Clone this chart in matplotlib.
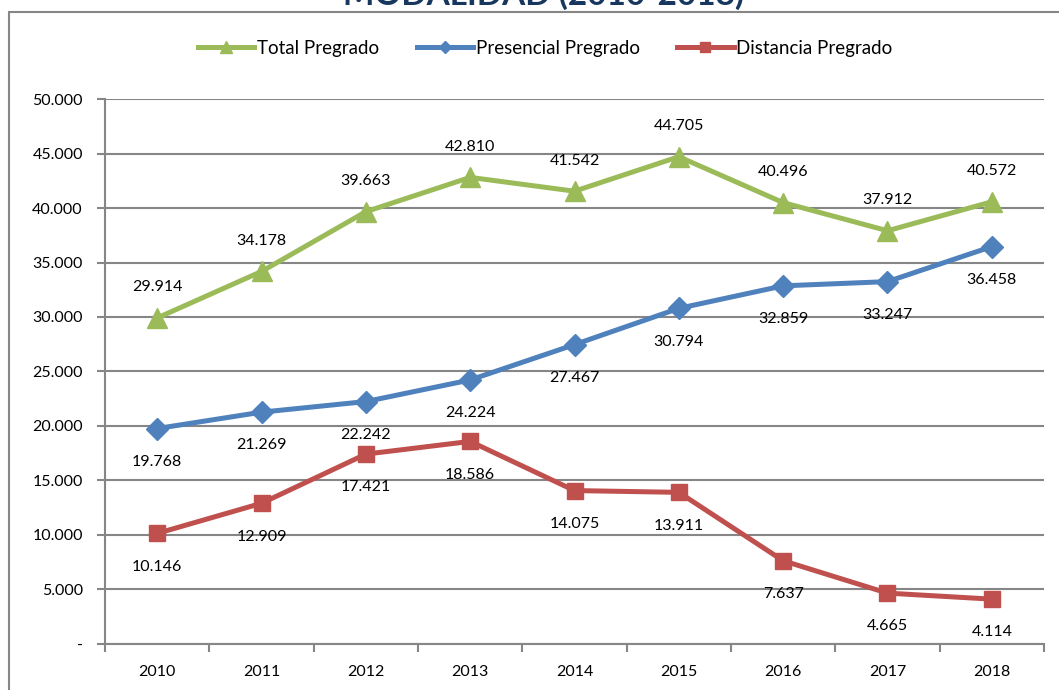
import matplotlib
matplotlib.use("Agg")
import matplotlib.pyplot as plt
from matplotlib.patches import Rectangle
from matplotlib.ticker import FuncFormatter, FixedLocator

plt.rcParams["font.family"] = ["Lato", "DejaVu Sans"]

years = ["2010", "2011", "2012", "2013", "2014", "2015", "2016", "2017", "2018"]
total = [29914, 34178, 39663, 42810, 41542, 44705, 40496, 37912, 40572]
presencial = [19768, 21269, 22242, 24224, 27467, 30794, 32859, 33247, 36458]
distancia = [10146, 12909, 17421, 18586, 14075, 13911, 7637, 4665, 4114]

title = "MODALIDAD (2010-2018)"
grid_color = "#868686"


def fmt_thousands(v, pos=None):
    if v == 0:
        return "-"
    return f"{int(round(v)):,}".replace(",", ".")


fig = plt.figure(figsize=(10.59, 6.9), dpi=100)
ax = fig.add_axes([0.0992, 0.0667, 0.8866, 0.7898])

x = list(range(len(years)))
series = [
    ("Total Pregrado", total, "#9BBB59", "^", 14, 22),
    ("Presencial Pregrado", presencial, "#4F81BD", "D", 11, -24),
    ("Distancia Pregrado", distancia, "#C0504D", "s", 12, -24),
]

for label, vals, color, marker, ms, dy in series:
    ax.plot(x, vals, color=color, linewidth=3.6, marker=marker,
            markersize=ms, markeredgecolor=color, label=label, zorder=3)
    for xi, v in zip(x, vals):
        ax.annotate(fmt_thousands(v), (xi, v), xytext=(0, dy),
                    textcoords="offset points", ha="center", va="center",
                    fontsize=11.5, color="black")

ax.set_xlim(-0.5, len(years) - 0.5)
ax.set_ylim(0, 50000)
ax.set_yticks(range(0, 50001, 5000))
ax.yaxis.set_major_formatter(FuncFormatter(fmt_thousands))
ax.set_xticks(x)
ax.set_xticklabels(years)
ax.xaxis.set_minor_locator(FixedLocator([i - 0.5 for i in range(len(years) + 1)]))

ax.tick_params(axis="x", which="major", length=0, pad=15, labelsize=11.5)
ax.tick_params(axis="x", which="minor", length=6, width=1.5, color=grid_color,
               direction="out")
ax.tick_params(axis="y", length=6, width=1.5, color=grid_color, pad=10,
               labelsize=11.5)

ax.grid(axis="y", color=grid_color, linewidth=1.5)
ax.set_axisbelow(True)
for side in ["top", "right"]:
    ax.spines[side].set_visible(False)
for side in ["left", "bottom"]:
    ax.spines[side].set_color(grid_color)
    ax.spines[side].set_linewidth(1.5)

leg = fig.legend(loc="center", bbox_to_anchor=(0.515, 0.930), ncol=3,
                 frameon=False, fontsize=13.5, handlelength=3.0,
                 handletextpad=0.15, columnspacing=2.0, markerscale=0.6)

fig.patches.append(Rectangle((0.0085, -0.05), 1.2, 1.0326, transform=fig.transFigure,
                             fill=False, edgecolor=grid_color, linewidth=1.5))

fig.text(0.513, 0.9928, title, ha="center", va="baseline", fontsize=24,
         fontweight="bold", color="#17375E")

fig.savefig("out.png", dpi=100)
